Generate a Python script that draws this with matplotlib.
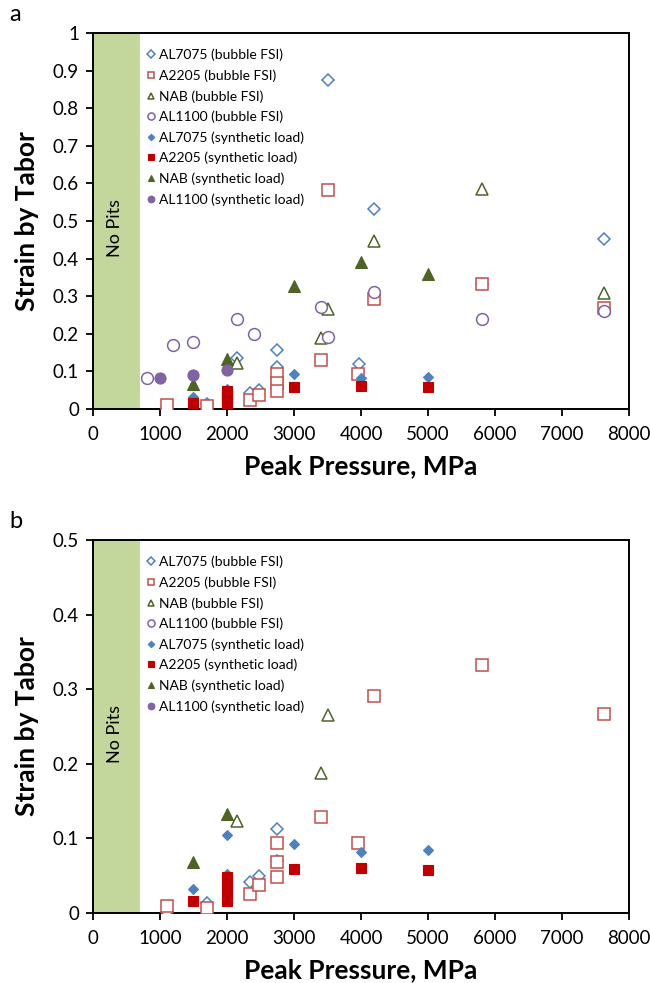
import matplotlib
matplotlib.use("Agg")
import matplotlib.pyplot as plt

plt.rcParams['font.family'] = ['Lato', 'DejaVu Sans']

# ---- panel a data ----
a_al7075_fsi_x = [1100, 1700, 2150, 2350, 2475, 2750, 2750, 2750, 3500, 3970, 4200, 5800, 7630]
a_al7075_fsi_y = [0.003, 0.013, 0.136, 0.042, 0.051, 0.157, 0.112, 0.070, 0.875, 0.119, 0.531, 0.332, 0.453]
a_a2205_fsi_x = [1100, 1700, 2350, 2475, 2750, 2750, 2750, 3400, 3500, 3960, 4200, 5800, 7630]
a_a2205_fsi_y = [0.010, 0.008, 0.025, 0.038, 0.094, 0.068, 0.047, 0.129, 0.583, 0.094, 0.292, 0.332, 0.268]
a_nab_fsi_x = [2150, 3400, 3500, 4200, 5800, 7630]
a_nab_fsi_y = [0.123, 0.188, 0.266, 0.447, 0.585, 0.308]
a_al1100_fsi_x = [800, 1200, 1500, 2150, 2400, 3400, 3500, 4200, 5800, 7630]
a_al1100_fsi_y = [0.082, 0.170, 0.179, 0.240, 0.200, 0.270, 0.190, 0.310, 0.239, 0.260]
a_al7075_syn_x = [1500, 2000, 2000, 3000, 4000, 5000]
a_al7075_syn_y = [0.033, 0.052, 0.104, 0.092, 0.082, 0.084]
a_a2205_syn_x = [1500, 2000, 2000, 2000, 2000, 2000, 2000, 3000, 4000, 5000]
a_a2205_syn_y = [0.017, 0.016, 0.022, 0.029, 0.036, 0.043, 0.048, 0.059, 0.060, 0.058]
a_nab_syn_x = [1500, 2000, 3000, 4000, 5000]
a_nab_syn_y = [0.067, 0.134, 0.328, 0.390, 0.358]
a_al1100_syn_x = [1000, 1500, 2000]
a_al1100_syn_y = [0.081, 0.089, 0.104]

# ---- panel b data ----
b_al7075_fsi_x = [1100, 1700, 2350, 2475, 2750, 2750]
b_al7075_fsi_y = [0.002, 0.014, 0.042, 0.050, 0.112, 0.070]
b_a2205_fsi_x = [1100, 1700, 2350, 2475, 2750, 2750, 2750, 3400, 3960, 4200, 5800, 7630]
b_a2205_fsi_y = [0.010, 0.007, 0.025, 0.038, 0.094, 0.068, 0.048, 0.129, 0.094, 0.291, 0.332, 0.267]
b_nab_fsi_x = [2150, 3400, 3500]
b_nab_fsi_y = [0.123, 0.188, 0.266]
b_al7075_syn_x = [1500, 2000, 2000, 3000, 4000, 5000]
b_al7075_syn_y = [0.032, 0.052, 0.104, 0.092, 0.082, 0.084]
b_a2205_syn_x = [1500, 2000, 2000, 2000, 2000, 2000, 2000, 3000, 4000, 5000]
b_a2205_syn_y = [0.016, 0.016, 0.022, 0.029, 0.036, 0.043, 0.048, 0.059, 0.060, 0.058]
b_nab_syn_x = [1500, 2000]
b_nab_syn_y = [0.068, 0.133]

labels = ["AL7075 (bubble FSI)", "A2205 (bubble FSI)", "NAB (bubble FSI)", "AL1100 (bubble FSI)",
          "AL7075 (synthetic load)", "A2205 (synthetic load)", "NAB (synthetic load)", "AL1100 (synthetic load)"]

BLUE = "#4F81BD"
RED_O = "#C0504D"
RED_F = "#C00000"
GREEN = "#4F6228"
PURPLE = "#8064A2"

styles = [
    dict(marker="D", mfc="white", mec=BLUE, ms=6.5, mew=1.1),
    dict(marker="s", mfc="white", mec=RED_O, ms=8, mew=1.1),
    dict(marker="^", mfc="white", mec=GREEN, ms=8, mew=1.1),
    dict(marker="o", mfc="white", mec=PURPLE, ms=8.5, mew=1.1),
    dict(marker="D", mfc=BLUE, mec=BLUE, ms=5.5, mew=0.8),
    dict(marker="s", mfc=RED_F, mec=RED_F, ms=7.5, mew=0.8),
    dict(marker="^", mfc=GREEN, mec=GREEN, ms=8, mew=0.8),
    dict(marker="o", mfc=PURPLE, mec=PURPLE, ms=8, mew=0.8),
]

panel_a = [(a_al7075_fsi_x, a_al7075_fsi_y), (a_a2205_fsi_x, a_a2205_fsi_y),
           (a_nab_fsi_x, a_nab_fsi_y), (a_al1100_fsi_x, a_al1100_fsi_y),
           (a_al7075_syn_x, a_al7075_syn_y), (a_a2205_syn_x, a_a2205_syn_y),
           (a_nab_syn_x, a_nab_syn_y), (a_al1100_syn_x, a_al1100_syn_y)]
panel_b = [(b_al7075_fsi_x, b_al7075_fsi_y), (b_a2205_fsi_x, b_a2205_fsi_y),
           (b_nab_fsi_x, b_nab_fsi_y), ([], []),
           (b_al7075_syn_x, b_al7075_syn_y), (b_a2205_syn_x, b_a2205_syn_y),
           (b_nab_syn_x, b_nab_syn_y), ([], [])]

fig = plt.figure(figsize=(6.5, 9.83), dpi=100)
ax_a = fig.add_axes([0.143, 0.584, 0.825, 0.3825])
ax_b = fig.add_axes([0.143, 0.0712, 0.825, 0.3795])


def draw_panel(ax, data, ymax, letter):
    ax.axvspan(0, 700, color="#C3D69B", lw=0, zorder=0)
    for (x, y), lab, st in zip(data, labels, styles):
        ax.plot(x, y, ls="none", label=lab, zorder=3, **st)
    ax.set_xlim(0, 8000)
    ax.set_ylim(0, ymax)
    ax.set_xticks(range(0, 8001, 1000))
    n = int(round(ymax * 10))
    ax.set_yticks([i / 10 for i in range(n + 1)])
    ax.set_yticklabels(["0"] + ["%g" % (i / 10) for i in range(1, n + 1)])
    ax.tick_params(direction="out", length=5, width=1.3, labelsize=13.5, colors="black", pad=5)
    ax.tick_params(axis="x", pad=7)
    for s in ax.spines.values():
        s.set_linewidth(1.4)
    ax.set_xlabel("Peak Pressure, MPa", fontsize=19, fontweight="bold", labelpad=8)
    ax.set_ylabel("Strain by Tabor", fontsize=19, fontweight="bold", labelpad=10)
    ax.text(330, ymax * 0.48, "No Pits", rotation=90, ha="center", va="center", fontsize=13)
    ax.legend(loc="upper left", bbox_to_anchor=(0.085, 0.98), frameon=False, fontsize=10,
              markerscale=0.6, handlelength=0.6, handletextpad=0.3, labelspacing=0.58,
              borderaxespad=0.2)
    fig.text(0.014, ax.get_position().y1 + 0.008, letter, fontsize=17, va="bottom")


draw_panel(ax_a, panel_a, 1.0, "a")
draw_panel(ax_b, panel_b, 0.5, "b")

fig.savefig("out.png", dpi=100)
